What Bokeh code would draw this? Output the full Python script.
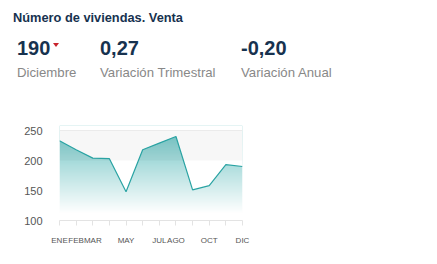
import numpy as np
from bokeh.plotting import figure
from bokeh.layouts import column
from bokeh.models import Range1d, FixedTicker, Span, Div
from bokeh.embed import file_html
from bokeh.resources import INLINE

# ---- data ----
months = ["ENE", "FEB", "MAR", "ABR", "MAY", "JUN", "JUL", "AGO", "SEP", "OCT", "NOV", "DIC"]
shown_labels = ["ENE", "FEB", "MAR", "", "MAY", "", "JUL", "AGO", "", "OCT", "", "DIC"]
values = [233, 218, 204, 203, 148, 218, 229, 240, 151, 158, 193, 190]
y_ticks = [100, 150, 200, 250]
band = [200, 250]
title_text = "Número de viviendas. Venta"
kpi_values = ["190", "0,27", "-0,20"]
kpi_labels = ["Diciembre", "Variación Trimestral", "Variación Anual"]

NAVY = "#17324f"
GREY = "#888888"
TEAL = (38, 166, 166)
FONT = "Liberation Sans"

W, H = 437, 264
HEAD_H = 110

# ---------------- header (HTML text) ----------------
def span(text, left, baseline, size, color, bold=False):
    top = baseline - 0.8465 * size
    weight = "bold" if bold else "normal"
    return (f'<span style="position:absolute;left:{left}px;top:{top:.1f}px;'
            f'font-family:\'{FONT}\';font-size:{size}px;line-height:{size}px;'
            f'font-weight:{weight};color:{color};white-space:nowrap;">{text}</span>')

parts = [span(title_text, 13, 23, 12.8, NAVY, bold=True)]
kpi_x = [17, 100, 241]
for xv, val, lab in zip(kpi_x, kpi_values, kpi_labels):
    parts.append(span(val, xv, 55, 20, NAVY, bold=True))
    parts.append(span(lab, xv, 77, 13.2, GREY))
parts.append('<span style="position:absolute;left:53px;top:43px;width:0;height:0;'
             'border-left:3.5px solid transparent;border-right:3.5px solid transparent;'
             'border-top:4.5px solid #c8232c;"></span>')
html = (f'<div style="position:relative;width:{W}px;height:{HEAD_H}px;margin:0;padding:0;">'
        + "".join(parts) + '</div>')
header = Div(text=html, width=W, height=HEAD_H, margin=0)

# ---------------- chart figure ----------------
CH = H - HEAD_H
left, right_edge, top, bottom = 59, 242, 125 - HEAD_H, 220 - HEAD_H
y_min = 100
y_max = y_min + (bottom - top) / 0.6

x = list(range(len(months)))

p = figure(width=W, height=CH, output_backend="svg", toolbar_location=None,
           x_range=Range1d(0, len(months) - 1), y_range=Range1d(y_min, y_max),
           min_border_left=left, min_border_right=W - right_edge,
           min_border_top=top, min_border_bottom=CH - bottom, margin=0)
p.outline_line_color = None
p.background_fill_color = "white"
p.border_fill_color = "white"
p.xgrid.visible = False
p.ygrid.visible = False

# gradient image (decorative fill)
ny = 200
levels = np.linspace(y_min, y_max, ny)
alpha = np.clip((levels - 112) / (240 - 112), 0, 1) * 0.6
img = np.zeros((ny, 2), dtype=np.uint32)
view = img.view(dtype=np.uint8).reshape((ny, 2, 4))
for i in range(ny):
    a = alpha[i]
    view[i, :, 0] = int(round(255 - a * (255 - TEAL[0])))
    view[i, :, 1] = int(round(255 - a * (255 - TEAL[1])))
    view[i, :, 2] = int(round(255 - a * (255 - TEAL[2])))
    view[i, :, 3] = 255
p.image_rgba(image=[img], x=0, y=y_min, dw=len(months) - 1, dh=y_max - y_min)

# white cover above the series line
p.varea(x=x, y1=values, y2=[y_max] * len(x), fill_color="white")

# plot band 200-250
p.quad(left=0, right=len(months) - 1, bottom=band[0], top=band[1],
       fill_color="black", fill_alpha=0.031, line_color=None)
p.add_layout(Span(location=band[1], dimension="width", line_color="#ebebeb", line_width=1))

# series line
p.line(x=x, y=values, line_color="#2aa3a3", line_width=1.2)

# axes
p.xaxis.ticker = FixedTicker(ticks=x)
p.xaxis.major_label_overrides = {i: lab for i, lab in enumerate(shown_labels)}
p.xaxis.axis_line_color = "#e3e3e3"
p.xaxis.major_tick_line_color = "#e3e3e3"
p.xaxis.major_tick_out = 5
p.xaxis.major_tick_in = 0
p.xaxis.minor_tick_line_color = None
p.xaxis.major_label_text_font = FONT
p.xaxis.major_label_text_font_size = "8px"
p.xaxis.major_label_text_color = "#555555"
p.xaxis.major_label_standoff = 10

p.yaxis.ticker = FixedTicker(ticks=y_ticks)
p.yaxis.axis_line_color = None
p.yaxis.major_tick_line_color = None
p.yaxis.minor_tick_line_color = None
p.yaxis.major_label_text_font = FONT
p.yaxis.major_label_text_font_size = "11px"
p.yaxis.major_label_text_color = "#555555"
p.yaxis.major_label_standoff = 11

layout = column(header, p, spacing=0, margin=0)
open("out.html", "w").write(file_html(layout, INLINE))
